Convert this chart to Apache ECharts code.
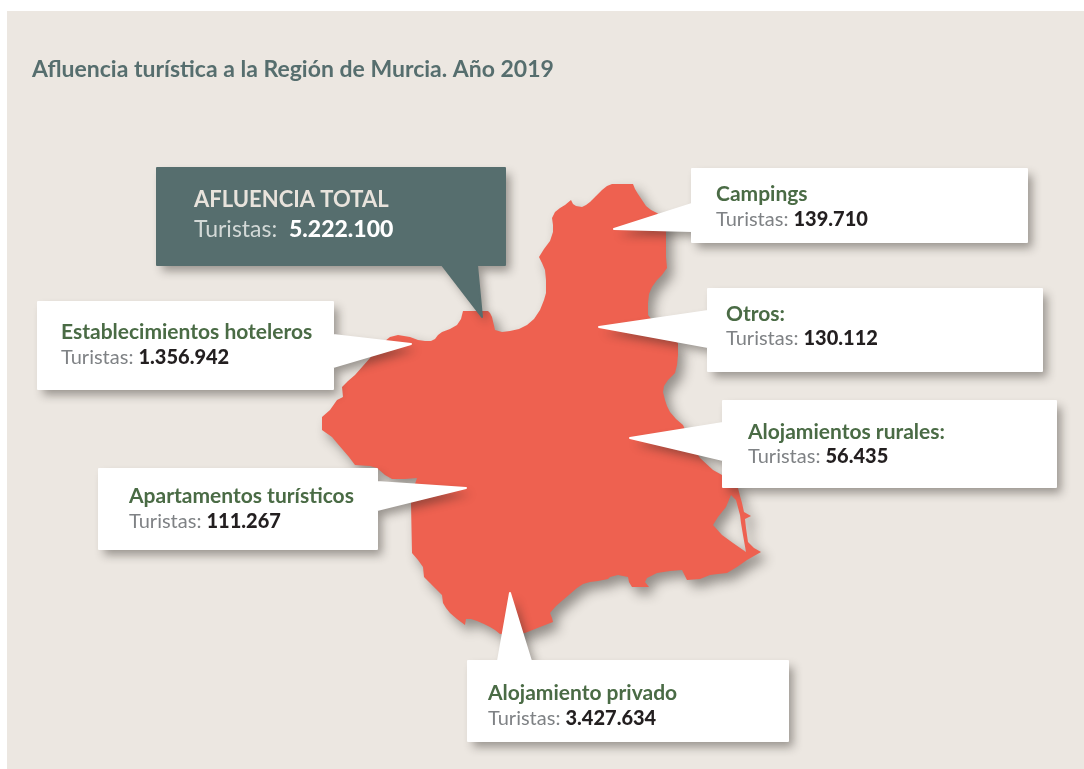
<!DOCTYPE html>
<html>
<head>
<meta charset="utf-8">
<title>Afluencia turística a la Región de Murcia</title>
<script src="https://cdn.jsdelivr.net/npm/echarts@6/dist/echarts.min.js"></script>
<style>
    html, body { margin: 0; padding: 0; background: #fff; }
    #chart { width: 1084px; height: 769px; }
</style>
</head>
<body>
<div id="chart"></div>
<script>
const titleText = 'Afluencia turística a la Región de Murcia. Año 2019';
const totalName = 'AFLUENCIA TOTAL';
const totalTourists = 5222100;
const categories = ['Establecimientos hoteleros', 'Apartamentos turísticos', 'Campings', 'Otros:', 'Alojamientos rurales:', 'Alojamiento privado'];
const tourists = [1356942, 111267, 139710, 130112, 56435, 3427634];

// contorno de la region, calcado de la imagen
const outline = [
    [612,184],[633,184],[635,189],[638,194],[642,200],[646,206],[651,210],[657,213],[667,222],[666,232],[666,257],[667,268],
    [662,275],[657,280],[652,287],[649,294],[648,303],[648,315],[660,330],[678,343],[678,355],[677,365],[675,373],[668,380],
    [664,386],[663,392],[665,400],[667,406],[670,412],[676,419],[683,425],[692,445],[700,458],[713,470],[722,475],[732,482],
    [738,488],[740,496],[742,503],[744,512],[751,516],[745,519],[746,528],[748,542],[754,548],[761,552],[754,556],[747,560],
    [737,567],[727,573],[718,574],[710,575],[700,579],[687,580],[682,570],[670,571],[657,573],[647,578],
    [645,582],[649,587],[632,587],[629,582],[628,577],[618,575],[610,577],[608,579],[598,581],[590,582],[583,584],[577,588],
    [570,594],[563,600],[556,606],[550,613],[552,618],[553,622],[540,627],[525,633],[500,634],[495,630],[490,627],[484,624],
    [477,621],[471,619],[466,619],[465,625],[457,619],[450,613],[446,608],[443,603],[442,595],[436,589],[430,583],[424,577],
    [423,567],[418,560],[412,553],[411,503],[415,484],[417,478],[405,479],[392,479],[385,475],[377,468],
    [370,466],[355,465],[349,457],[343,450],[337,443],[332,437],[322,430],[322,417],[330,410],[337,400],[343,397],[342,387],[348,381],[355,375],
    [370,358],[380,345],[390,337],[398,335],[404,336],[410,337],[418,340],[425,341],[431,341],[435,339],[438,335],[442,332],
    [450,329],[457,325],[461,319],[463,311],[488,311],[490,313],[492,317],[495,330],[502,332],[510,331],[519,329],[527,325],[534,319],
    [540,310],[544,300],[546,293],[546,280],[545,270],[542,263],[539,257],[544,249],[550,241],[553,232],[553,225],[552,218],
    [555,212],[560,208],[565,205],[571,200],[573,204],[576,206],[582,207],[586,205],[590,202],[596,196],[602,190],[607,186]
];
// Mar Menor
const lagoon = [[731,495],[726,507],[718,517],[713,525],[722,535],[733,543],[746,552],[743,535],[741,523],[740,515],[736,500]];

// cajas: [x0, y0, x1, y1], pico, texto
const totalBox = { box: [157,168,505,265], side: 'bottom', wedge: [[477,265],[482,317],[442,265]], text: [194,200,230] };
const boxes = [
    { box: [38,302,333,389], side: 'right', wedge: [[333,335],[411,344],[333,367]], text: [61,332,358] },
    { box: [99,469,377,549], side: 'right', wedge: [[377,482],[466,488],[377,510]], text: [129,496,522] },
    { box: [692,169,1027,242], side: 'left', wedge: [[692,231],[614,229],[692,204]], text: [716,194,220] },
    { box: [708,289,1042,371], side: 'left', wedge: [[708,347],[599,327],[708,311]], text: [726,314,339] },
    { box: [723,401,1056,487], side: 'left', wedge: [[723,460],[630,438],[723,423]], text: [748,432,457] },
    { box: [468,661,788,741], side: 'top', wedge: [[498,661],[510,593],[531,661]], text: [488,693,719] }
];

const fontName = 'Lato, sans-serif';

function formatNumber(n) {
    return String(n).replace(/\B(?=(\d{3})+$)/g, '.');
}

function boxPoints(item, api) {
    const [x0, y0, x1, y1] = item.box;
    let pts = [[x0, y0]];
    if (item.side === 'top') pts = pts.concat(item.wedge);
    pts.push([x1, y0]);
    if (item.side === 'right') pts = pts.concat(item.wedge);
    pts.push([x1, y1]);
    if (item.side === 'bottom') pts = pts.concat(item.wedge);
    pts.push([x0, y1]);
    if (item.side === 'left') pts = pts.concat(item.wedge);
    return pts.map(p => api.coord(p));
}

const allBoxes = boxes.concat([totalBox]);
const allNames = categories.concat([totalName]);
const allValues = tourists.concat([totalTourists]);

function renderCallout(params, api) {
    const i = params.dataIndex;
    const item = allBoxes[i];
    const isTotal = item === totalBox;
    const fill = isTotal ? '#566e6e' : '#ffffff';
    const anchor1 = api.coord([item.text[0], item.text[1]]);
    const anchor2 = api.coord([item.text[0], item.text[2]]);
    const points = boxPoints(item, api);
    return {
        type: 'group',
        children: [
            {
                // sombra
                type: 'polygon',
                shape: { points: points },
                style: {
                    fill: fill,
                    shadowBlur: 10,
                    shadowOffsetX: 5,
                    shadowOffsetY: 6,
                    shadowColor: 'rgba(40,35,30,0.42)'
                }
            },
            {
                // encima sin sombra, el trazo redondea esquinas
                type: 'polygon',
                shape: { points: points },
                style: { fill: fill, stroke: fill, lineWidth: 2, lineJoin: 'round' }
            },
            {
                type: 'text',
                style: {
                    x: anchor1[0],
                    y: anchor1[1],
                    text: allNames[i],
                    verticalAlign: 'middle',
                    font: isTotal ? '700 22px ' + fontName : '700 21px ' + fontName,
                    fill: isTotal ? '#e8e3dc' : '#4a6b45'
                }
            },
            {
                type: 'text',
                style: {
                    x: anchor2[0],
                    y: anchor2[1],
                    text: '{a|Turistas: ' + (isTotal ? ' ' : '') + '}{b|' + formatNumber(allValues[i]) + '}',
                    verticalAlign: 'middle',
                    rich: {
                        a: {
                            fontFamily: fontName,
                            fontWeight: 400,
                            fontSize: isTotal ? 23 : 20,
                            fill: isTotal ? '#d3d9d7' : '#7f8285'
                        },
                        b: {
                            fontFamily: fontName,
                            fontWeight: 900,
                            fontSize: isTotal ? 23 : 20,
                            fill: isTotal ? '#ffffff' : '#231f20'
                        }
                    }
                }
            }
        ]
    };
}

const xs = outline.map(p => p[0]);
const ys = outline.map(p => p[1]);
const minX = Math.min(...xs), maxX = Math.max(...xs);
const minY = Math.min(...ys), maxY = Math.max(...ys);

echarts.registerMap('murcia', {
    type: 'FeatureCollection',
    features: [{
        type: 'Feature',
        properties: { name: 'Región de Murcia' },
        geometry: { type: 'Polygon', coordinates: [outline, lagoon] }
    }]
});

const chart = echarts.init(document.getElementById('chart'));
chart.setOption({
    animation: false,
    backgroundColor: '#ffffff',
    graphic: [{
        type: 'rect',
        z: -10,
        silent: true,
        shape: { x: 7, y: 11, width: 1077, height: 758 },
        style: { fill: '#ece7e1' }
    }],
    title: {
        text: titleText,
        left: 32,
        top: 58,
        padding: 0,
        textStyle: { fontFamily: fontName, fontWeight: 700, fontSize: 23, color: '#566e6e' }
    },
    geo: {
        map: 'murcia',
        roam: false,
        silent: true,
        projection: {
            project: p => p,
            unproject: p => p
        },
        left: minX,
        top: minY,
        width: maxX - minX,
        height: maxY - minY,
        label: { show: false },
        itemStyle: {
            areaColor: '#ee6150',
            borderWidth: 0,
            shadowBlur: 12,
            shadowOffsetX: 6,
            shadowOffsetY: 7,
            shadowColor: 'rgba(40,35,30,0.45)'
        },
        emphasis: { disabled: true },
        select: { disabled: true }
    },
    series: [{
        type: 'custom',
        coordinateSystem: 'geo',
        z: 5,
        silent: true,
        clip: false,
        renderItem: renderCallout,
        data: allBoxes.map(b => b.wedge[1])
    }]
});
</script>
</body>
</html>
